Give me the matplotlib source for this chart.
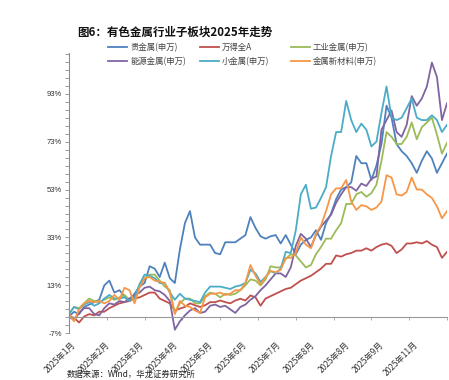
import numpy as np
import matplotlib
matplotlib.use("Agg")
import matplotlib.pyplot as plt
import matplotlib.transforms as mtransforms

plt.rcParams['font.family'] = ['Liberation Sans', 'Noto Sans CJK SC', 'DejaVu Sans']

# ---------------- data ----------------
series_names = ['贵金属(申万)', '万得全A', '工业金属(申万)', '能源金属(申万)', '小金属(申万)', '金属新材料(申万)']
colors = ['#4F81BD', '#C0504D', '#9BBB59', '#8064A2', '#4BACC6', '#F79646']

precious = [0, 2, 1, 4, 5, 6, 7, 13, 15, 10, 11, 8.5, 6.5, 9.5, 12.5, 14, 21, 20, 16.5, 22.5,
            16, 14, 28, 39, 44, 33, 30, 30, 30, 26.5, 26, 31, 31, 31, 32.5, 34, 41.5, 37, 33.5, 32.5,
            33.5, 34, 30.5, 34, 30, 26, 30, 32, 33, 36, 32, 39, 43, 49, 53, 54, 56, 67, 64, 64,
            57, 63, 72, 88, 83, 72, 69, 67, 64, 60, 65, 69, 66, 60, 64, 68]
wind_a = [0, -0.5, -2.5, 0, 1, 0.5, 2, 2, 3.5, 4.5, 5.5, 6, 6.5, 7.5, 8, 9, 10, 10, 7.5, 6.5,
          5.5, 2.5, 3.3, 4, 5.5, 4.7, 4, 4.7, 6, 6, 6.7, 6, 5.5, 6.7, 7.4, 6.7, 8.8, 8, 4.5, 7.5,
          8.5, 9.5, 10.5, 11.5, 12, 13.5, 15, 16, 17, 18.5, 20, 22, 22, 25.5, 25, 26, 26.5, 27.5, 27.5, 28.5,
          27.5, 29, 30, 30.5, 29.5, 26.5, 28, 30.5, 30.5, 31, 30.5, 31.5, 30, 29, 24.5, 27]
industrial = [1, 4, 3.5, 5.5, 7.5, 6.5, 6, 7, 8, 7, 8, 9, 7, 7.5, 13, 16, 17.5, 17.5, 15, 12.5,
              11, 1.5, 5.5, 7.5, 7.5, 5.5, 5.5, 8.5, 10, 9.5, 8, 9.5, 9, 9.5, 11, 13, 15.5, 15, 13, 15.5,
              21, 20.5, 20.5, 24, 26, 25.5, 23, 20.5, 21.5, 26, 29, 32.5, 32.5, 36, 39, 47, 47, 51, 52, 50,
              51.5, 55, 65, 77, 75, 72, 72, 75, 81, 74, 79, 81, 83, 76, 68, 72.5]
energy = [0, -1.5, 1.5, 3.5, 3.5, 1, 0.5, 3.5, 5.5, 5, 6.5, 6, 7.5, 9, 10, 12, 12.5, 11, 10.5, 9,
          6.5, -5.5, -2, 0.5, 2.5, 3.5, 1.5, 2, 4.5, 5, 4, 4.5, 3, 1.5, 4, 5, 7, 8.5, 11, 13,
          15.5, 18, 18, 16.5, 20.5, 29.5, 34.5, 32.5, 29, 34, 37.5, 40, 42.5, 47.5, 51, 54, 54, 52.5, 55.5, 54.5,
          57.5, 58.5, 78, 82, 86, 77, 75, 80, 92, 88, 91, 96, 106, 100, 82, 89]
minor = [1, 4, 3, 5, 6, 4.5, 5.5, 7.5, 9, 7.5, 7.5, 8, 6.5, 8, 13.5, 17.5, 17, 16, 14, 14,
         10, 7, 9.5, 7.5, 7, 6.5, 6, 10, 12.5, 12.5, 12.5, 12, 11.5, 12.5, 13, 14, 19.5, 18, 14.5, 16.5,
         19, 18, 20, 27, 26.5, 36, 51, 55, 45, 45.5, 49.5, 54, 67, 77, 77, 90, 82, 77, 80.5, 78,
         71, 73, 85, 96, 83, 82, 83, 87, 91, 83, 82, 82, 84, 82, 77, 80]
new_mat = [1, -2, 3, 5.5, 6.5, 6, 6.5, 5.5, 6.5, 9, 7, 12, 11, 5.5, 12, 16, 16.5, 15, 14.5, 14,
           10, 1, 6.5, 4.5, 4, 2.5, 1.5, 8, 9.5, 9.5, 10, 9, 9.5, 11, 11, 14, 21.5, 17, 13.5, 16.5,
           19, 18.5, 19.5, 24.5, 24.5, 26.5, 33, 30, 28.5, 34.5, 38, 44, 51, 53.5, 53.5, 57, 48, 44.5, 46.5, 46,
           44.5, 45.5, 48, 59, 58, 51, 50.5, 52, 58, 53, 53, 51, 49.5, 46, 41, 44]

data = [precious, wind_a, industrial, energy, minor, new_mat]

x_labels = ['2025年1月', '2025年2月', '2025年3月', '2025年4月', '2025年5月', '2025年6月',
            '2025年7月', '2025年8月', '2025年8月', '2025年9月', '2025年11月']
y_ticks = [-7, 13, 33, 53, 73, 93]

# ---------------- figure ----------------
fig = plt.figure(figsize=(4.49, 3.80), dpi=100)
ax = fig.add_axes([69 / 449, 1 - 333.3 / 380, (447 - 69) / 449, (333.3 - 53) / 380])

lines = []
for vals, c, name in zip(data, colors, series_names):
    x = np.arange(len(vals))
    ln, = ax.plot(x, vals, color=c, lw=1.3, label=name, solid_joinstyle='round')
    lines.append(ln)

n = len(precious)
ax.set_xlim(0, n - 1)
ax.set_ylim(-7, 110)

# spines
for s in ['top', 'right']:
    ax.spines[s].set_visible(False)
ax.spines['left'].set_color('#8c8c8c')
ax.spines['left'].set_linewidth(0.8)
ax.spines['bottom'].set_position(('data', 0))
ax.spines['bottom'].set_color('#9a9a9a')
ax.spines['bottom'].set_linewidth(0.8)
ax.set_zorder(1)

# y ticks
ax.set_yticks(y_ticks)
ax.set_yticklabels([f'{v}%' for v in y_ticks])
ax.set_yticks(np.arange(-7, 110, 20 / 6), minor=True)
ax.tick_params(axis='y', which='both', direction='out', length=3, width=0.6, color='#8c8c8c',
               labelsize=5.5, labelcolor='#333333', pad=2)

# x tick marks on the zero line
ax.set_xticks(np.linspace(0, n - 1, 11))
ax.tick_params(axis='x', which='major', direction='out', length=2.5, width=0.6, color='#9a9a9a',
               labelbottom=False)

# x labels (rotated) at the bottom
trans = mtransforms.blended_transform_factory(ax.transData, ax.transAxes)
for i, lab in enumerate(x_labels):
    xp = 0.4 + i * 6.79
    ax.text(xp, -0.025, lab, transform=trans, rotation=45, ha='right', va='top',
            rotation_mode='anchor', fontsize=6, color='#333333',
            family=['Noto Sans CJK SC', 'DejaVu Sans'])

# title
fig.text(77 / 449, 1 - 32 / 380, '图6：有色金属行业子板块2025年走势', fontsize=8.3, fontweight='bold',
         ha='left', va='center', color='#111111', family=['Noto Sans CJK SC', 'DejaVu Sans'])

# legend: three columns of two entries
cols = [(0, 3), (1, 4), (2, 5)]
col_x = [108 / 449, 200 / 449, 291 / 449]
for (a, b), cx in zip(cols, col_x):
    leg = fig.legend([lines[a], lines[b]], [series_names[a], series_names[b]],
                     loc='upper left', bbox_to_anchor=(cx, 1 - 43 / 380), frameon=False,
                     handlelength=2.3, handletextpad=0.35, labelspacing=0.6,
                     borderpad=0, borderaxespad=0,
                     prop={'family': ['Noto Sans CJK SC', 'DejaVu Sans'], 'size': 6})
    for t in leg.get_texts():
        t.set_color('#444444')

# source note at the bottom edge
fig.text(67 / 449, 0.002, '数据来源：Wind，华龙证券研究所', fontsize=6, ha='left', va='bottom',
         color='#222222', family=['Noto Sans CJK SC', 'DejaVu Sans'])

fig.savefig('out.png', dpi=100)
